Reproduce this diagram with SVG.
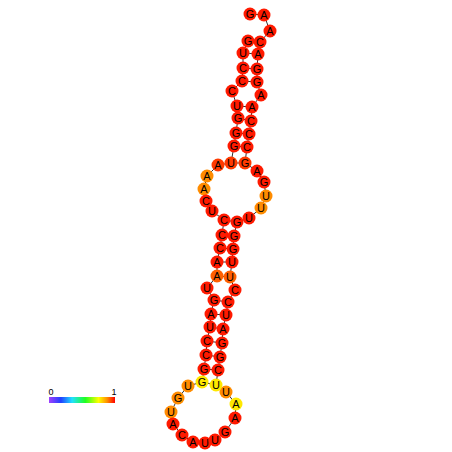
<svg xmlns="http://www.w3.org/2000/svg" width="452" height="452" viewBox="0 0 452 452">
<defs>
<linearGradient id="scale" x1="0" y1="0" x2="1" y2="0">
<stop offset="0" stop-color="#a040ff"/>
<stop offset="0.18" stop-color="#2040ff"/>
<stop offset="0.35" stop-color="#20e0ff"/>
<stop offset="0.55" stop-color="#20ff20"/>
<stop offset="0.75" stop-color="#ffff00"/>
<stop offset="0.88" stop-color="#ff9000"/>
<stop offset="1" stop-color="#ff0000"/>
</linearGradient>
</defs>
<style>
.bb{stroke:#333;stroke-width:1;fill:none}
.pr{stroke:#333;stroke-width:1;fill:none}
circle{stroke:none}
.r{fill:#ff1a00}
.ro{fill:#ff3a00}
.o{fill:#ff8c00}
.oo{fill:#ff6000}
.y{fill:#ffe800}
text{font-family:"Liberation Sans",Arial,sans-serif;font-size:11px;fill:#000;text-anchor:middle;dominant-baseline:central}
.lbl{font-size:9px}
</style>
<rect width="452" height="452" fill="#fff"/>
<g id="connectors">
<polyline class="bb" points="248,41 243,53 243,68 242,81 232,91 237,106 238,118 236,133 234,146 231,163 218,165 207,176 204,189 206,201 212,211 224,220 222,235 220,248 217,262 217,276 207,288 214,300 211,314 210,327 207,341 206,355 204,369 202,382 188,386 178,398 171,412 173,424 182,435 193,442 205,443 215,440 225,432 235,418 236,404 226,392 216,385 218,370 220,357 222,343 223,329 226,315 228,302 235,290 230,277 232,262 233,249 234,236 237,222 249,218 261,208 266,196 264,182 257,171 245,163 247,147 249,134 251,121 252,107 261,95 257,82 257,69 258,54 260,42 270,31 264,15 250,14"/>
<path class="pr" d="M248,41L260,42M243,53L258,54M243,68L257,69M242,81L257,82M237,106L252,107M238,118L251,121M236,133L249,134M234,146L247,147M231,163L245,163M224,220L237,222M222,235L234,236M220,248L233,249M217,262L232,262M217,276L230,277M214,300L228,302M211,314L226,315M210,327L223,329M207,341L222,343M206,355L220,357M204,369L218,370M202,382L216,385"/>
</g>
<g id="nodes">
<g id="n1"><circle class="r" cx="248" cy="41" r="6.5"/><text x="248" y="41">G</text></g>
<g id="n2"><circle class="r" cx="243" cy="53" r="6.5"/><text x="243" y="53">U</text></g>
<g id="n3"><circle class="r" cx="243" cy="68" r="6.5"/><text x="243" y="68">C</text></g>
<g id="n4"><circle class="r" cx="242" cy="81" r="6.5"/><text x="242" y="81">C</text></g>
<g id="n5"><circle class="r" cx="232" cy="91" r="6.5"/><text x="232" y="91">C</text></g>
<g id="n6"><circle class="r" cx="237" cy="106" r="6.5"/><text x="237" y="106">U</text></g>
<g id="n7"><circle class="r" cx="238" cy="118" r="6.5"/><text x="238" y="118">G</text></g>
<g id="n8"><circle class="r" cx="236" cy="133" r="6.5"/><text x="236" y="133">G</text></g>
<g id="n9"><circle class="r" cx="234" cy="146" r="6.5"/><text x="234" y="146">G</text></g>
<g id="n10"><circle class="ro" cx="231" cy="163" r="6.5"/><text x="231" y="163">U</text></g>
<g id="n11"><circle class="ro" cx="218" cy="165" r="6.5"/><text x="218" y="165">A</text></g>
<g id="n12"><circle class="o" cx="207" cy="176" r="6.5"/><text x="207" y="176">A</text></g>
<g id="n13"><circle class="o" cx="204" cy="189" r="6.5"/><text x="204" y="189">A</text></g>
<g id="n14"><circle class="r" cx="206" cy="201" r="6.5"/><text x="206" y="201">C</text></g>
<g id="n15"><circle class="r" cx="212" cy="211" r="6.5"/><text x="212" y="211">U</text></g>
<g id="n16"><circle class="r" cx="224" cy="220" r="6.5"/><text x="224" y="220">C</text></g>
<g id="n17"><circle class="r" cx="222" cy="235" r="6.5"/><text x="222" y="235">C</text></g>
<g id="n18"><circle class="r" cx="220" cy="248" r="6.5"/><text x="220" y="248">C</text></g>
<g id="n19"><circle class="r" cx="217" cy="262" r="6.5"/><text x="217" y="262">A</text></g>
<g id="n20"><circle class="oo" cx="217" cy="276" r="6.5"/><text x="217" y="276">A</text></g>
<g id="n21"><circle class="r" cx="207" cy="288" r="6.5"/><text x="207" y="288">U</text></g>
<g id="n22"><circle class="r" cx="214" cy="300" r="6.5"/><text x="214" y="300">G</text></g>
<g id="n23"><circle class="r" cx="211" cy="314" r="6.5"/><text x="211" y="314">A</text></g>
<g id="n24"><circle class="r" cx="210" cy="327" r="6.5"/><text x="210" y="327">U</text></g>
<g id="n25"><circle class="r" cx="207" cy="341" r="6.5"/><text x="207" y="341">C</text></g>
<g id="n26"><circle class="r" cx="206" cy="355" r="6.5"/><text x="206" y="355">C</text></g>
<g id="n27"><circle class="r" cx="204" cy="369" r="6.5"/><text x="204" y="369">G</text></g>
<g id="n28"><circle class="y" cx="202" cy="382" r="6.5"/><text x="202" y="382">G</text></g>
<g id="n29"><circle class="o" cx="188" cy="386" r="6.5"/><text x="188" y="386">U</text></g>
<g id="n30"><circle class="o" cx="178" cy="398" r="6.5"/><text x="178" y="398">G</text></g>
<g id="n31"><circle class="o" cx="171" cy="412" r="6.5"/><text x="171" y="412">U</text></g>
<g id="n32"><circle class="r" cx="173" cy="424" r="6.5"/><text x="173" y="424">A</text></g>
<g id="n33"><circle class="r" cx="182" cy="435" r="6.5"/><text x="182" y="435">C</text></g>
<g id="n34"><circle class="r" cx="193" cy="442" r="6.5"/><text x="193" y="442">A</text></g>
<g id="n35"><circle class="r" cx="205" cy="443" r="6.5"/><text x="205" y="443">U</text></g>
<g id="n36"><circle class="r" cx="215" cy="440" r="6.5"/><text x="215" y="440">U</text></g>
<g id="n37"><circle class="r" cx="225" cy="432" r="6.5"/><text x="225" y="432">G</text></g>
<g id="n38"><circle class="r" cx="235" cy="418" r="6.5"/><text x="235" y="418">A</text></g>
<g id="n39"><circle class="y" cx="236" cy="404" r="6.5"/><text x="236" y="404">A</text></g>
<g id="n40"><circle class="o" cx="226" cy="392" r="6.5"/><text x="226" y="392">U</text></g>
<g id="n41"><circle class="y" cx="216" cy="385" r="6.5"/><text x="216" y="385">U</text></g>
<g id="n42"><circle class="r" cx="218" cy="370" r="6.5"/><text x="218" y="370">C</text></g>
<g id="n43"><circle class="r" cx="220" cy="357" r="6.5"/><text x="220" y="357">G</text></g>
<g id="n44"><circle class="r" cx="222" cy="343" r="6.5"/><text x="222" y="343">G</text></g>
<g id="n45"><circle class="r" cx="223" cy="329" r="6.5"/><text x="223" y="329">A</text></g>
<g id="n46"><circle class="r" cx="226" cy="315" r="6.5"/><text x="226" y="315">U</text></g>
<g id="n47"><circle class="r" cx="228" cy="302" r="6.5"/><text x="228" y="302">C</text></g>
<g id="n48"><circle class="r" cx="235" cy="290" r="6.5"/><text x="235" y="290">C</text></g>
<g id="n49"><circle class="oo" cx="230" cy="277" r="6.5"/><text x="230" y="277">U</text></g>
<g id="n50"><circle class="r" cx="232" cy="262" r="6.5"/><text x="232" y="262">U</text></g>
<g id="n51"><circle class="r" cx="233" cy="249" r="6.5"/><text x="233" y="249">G</text></g>
<g id="n52"><circle class="r" cx="234" cy="236" r="6.5"/><text x="234" y="236">G</text></g>
<g id="n53"><circle class="r" cx="237" cy="222" r="6.5"/><text x="237" y="222">G</text></g>
<g id="n54"><circle class="r" cx="249" cy="218" r="6.5"/><text x="249" y="218">U</text></g>
<g id="n55"><circle class="o" cx="261" cy="208" r="6.5"/><text x="261" y="208">U</text></g>
<g id="n56"><circle class="o" cx="266" cy="196" r="6.5"/><text x="266" y="196">U</text></g>
<g id="n57"><circle class="r" cx="264" cy="182" r="6.5"/><text x="264" y="182">G</text></g>
<g id="n58"><circle class="r" cx="257" cy="171" r="6.5"/><text x="257" y="171">A</text></g>
<g id="n59"><circle class="ro" cx="245" cy="163" r="6.5"/><text x="245" y="163">G</text></g>
<g id="n60"><circle class="r" cx="247" cy="147" r="6.5"/><text x="247" y="147">C</text></g>
<g id="n61"><circle class="r" cx="249" cy="134" r="6.5"/><text x="249" y="134">C</text></g>
<g id="n62"><circle class="r" cx="251" cy="121" r="6.5"/><text x="251" y="121">C</text></g>
<g id="n63"><circle class="r" cx="252" cy="107" r="6.5"/><text x="252" y="107">A</text></g>
<g id="n64"><circle class="r" cx="261" cy="95" r="6.5"/><text x="261" y="95">A</text></g>
<g id="n65"><circle class="r" cx="257" cy="82" r="6.5"/><text x="257" y="82">G</text></g>
<g id="n66"><circle class="r" cx="257" cy="69" r="6.5"/><text x="257" y="69">G</text></g>
<g id="n67"><circle class="r" cx="258" cy="54" r="6.5"/><text x="258" y="54">A</text></g>
<g id="n68"><circle class="r" cx="260" cy="42" r="6.5"/><text x="260" y="42">C</text></g>
<g id="n69"><circle class="r" cx="270" cy="31" r="6.5"/><text x="270" y="31">A</text></g>
<g id="n70"><circle class="r" cx="264" cy="15" r="6.5"/><text x="264" y="15">A</text></g>
<g id="n71"><circle class="r" cx="250" cy="14" r="6.5"/><text x="250" y="14">G</text></g>
</g>
<g id="legend">
<rect x="49" y="397" width="66" height="6" fill="url(#scale)"/>
<text class="lbl" x="51" y="392">0</text>
<text class="lbl" x="114" y="392">1</text>
</g>
</svg>
